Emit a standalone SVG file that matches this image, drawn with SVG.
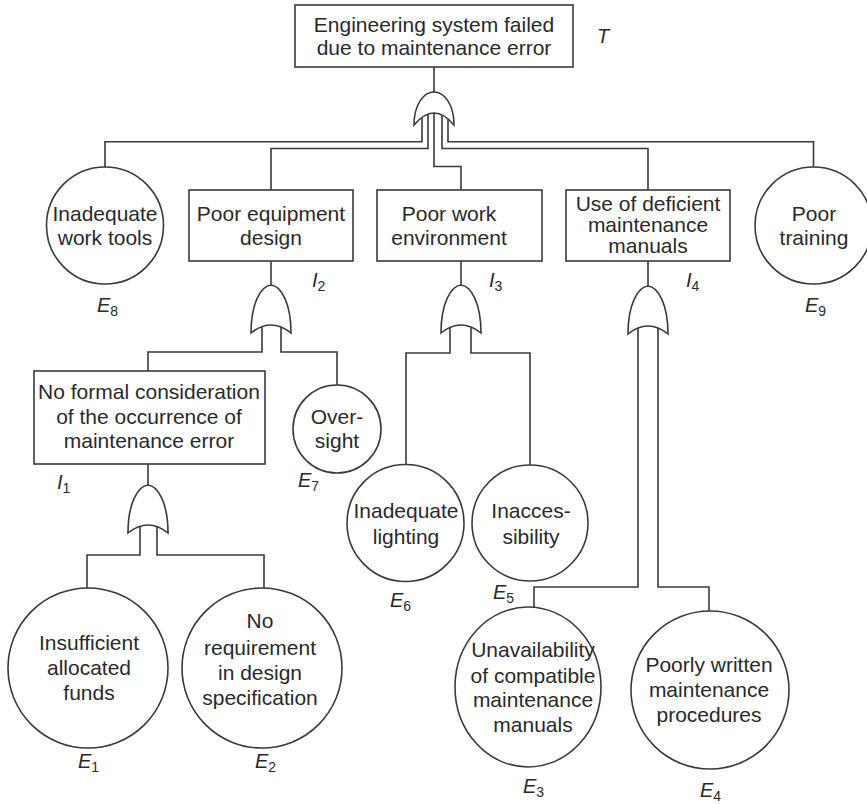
<svg xmlns="http://www.w3.org/2000/svg" width="867" height="804" viewBox="0 0 867 804">
<defs>
<style>
.ln{fill:none;stroke:#3a3a3a;stroke-width:1.6}
.sh{fill:#fff;stroke:#3a3a3a;stroke-width:1.6}
.t{font-family:"Liberation Sans",Arial,sans-serif;font-size:21px;fill:#2a2a2a;text-anchor:middle}
.lb{font-family:"Liberation Sans",Arial,sans-serif;font-size:20px;font-style:italic;fill:#2a2a2a}
.sb{font-size:14px;font-style:normal}
</style>
<path id="orI" d="M-20,48 C-20,18 -10,1 0,0 C10,1 20,18 20,48 Q0,32 -20,48 Z"/>
</defs>
<rect width="867" height="804" fill="#fff"/>
<g id="connectors" class="ln">
<path d="M434,67 V92"/>
<path d="M422,110 V141.7 H105 V167"/>
<path d="M428,110 V148.5 H271 V190"/>
<path d="M434,110 V166.5 H461 V190"/>
<path d="M442,110 V148.5 H648 V190"/>
<path d="M448,110 V141.7 H813.5 V167"/>
<path d="M271,261 V285"/>
<path d="M262,320 V352 H148 V371"/>
<path d="M281,320 V352 H337 V385"/>
<path d="M461,261 V285"/>
<path d="M450,320 V353 H406 V465"/>
<path d="M471,320 V353 H530 V465"/>
<path d="M648,261 V286"/>
<path d="M638,320 V587 H534 V608"/>
<path d="M658,320 V587 H709 V611"/>
<path d="M148,464 V485"/>
<path d="M140,520 V555 H87 V588"/>
<path d="M157,520 V555 H264 V588"/>
</g>
<g id="gate-T"><path class="sh" d="M414,125 C414,104 424,92 434,92 C444,92 454,104 454,125 Q434,101 414,125 Z"/></g>
<g id="gate-I2"><use href="#orI" class="sh" transform="translate(271,285)"/></g>
<g id="gate-I3"><use href="#orI" class="sh" transform="translate(461,285)"/></g>
<g id="gate-I4"><use href="#orI" class="sh" transform="translate(648,286)"/></g>
<g id="gate-I1"><use href="#orI" class="sh" transform="translate(148,485)"/></g>

<g id="T">
<rect class="sh" x="295" y="5" width="278" height="62"/>
<text class="t" x="434" y="32">Engineering system failed</text>
<text class="t" x="434" y="55">due to maintenance error</text>
<text class="lb" x="597" y="43">T</text>
</g>
<g id="E8">
<circle class="sh" cx="105" cy="225.5" r="58.5"/>
<text class="t" x="105" y="221">Inadequate</text>
<text class="t" x="105" y="245">work tools</text>
<text class="lb" x="97" y="312">E<tspan class="sb" dy="4">8</tspan></text>
</g>
<g id="I2">
<rect class="sh" x="189" y="190" width="164" height="71"/>
<text class="t" x="271" y="221">Poor equipment</text>
<text class="t" x="271" y="245">design</text>
<text class="lb" x="312" y="287">I<tspan class="sb" dy="4">2</tspan></text>
</g>
<g id="I3">
<rect class="sh" x="377" y="190" width="165" height="71"/>
<text class="t" x="449" y="221">Poor work</text>
<text class="t" x="449" y="245">environment</text>
<text class="lb" x="489" y="287">I<tspan class="sb" dy="4">3</tspan></text>
</g>
<g id="I4">
<rect class="sh" x="566" y="190" width="164" height="71"/>
<text class="t" x="648" y="211">Use of deficient</text>
<text class="t" x="648" y="232">maintenance</text>
<text class="t" x="648" y="253">manuals</text>
<text class="lb" x="686" y="287">I<tspan class="sb" dy="4">4</tspan></text>
</g>
<g id="E9">
<circle class="sh" cx="813.5" cy="225.5" r="58.5"/>
<text class="t" x="814" y="221">Poor</text>
<text class="t" x="814" y="245">training</text>
<text class="lb" x="805" y="312">E<tspan class="sb" dy="4">9</tspan></text>
</g>
<g id="I1">
<rect class="sh" x="34" y="371" width="231" height="93"/>
<text class="t" x="149" y="399">No formal consideration</text>
<text class="t" x="149" y="424">of the occurrence of</text>
<text class="t" x="149" y="448">maintenance error</text>
<text class="lb" x="57" y="489">I<tspan class="sb" dy="4">1</tspan></text>
</g>
<g id="E7">
<circle class="sh" cx="337" cy="429" r="44"/>
<text class="t" x="337" y="424">Over-</text>
<text class="t" x="337" y="448">sight</text>
<text class="lb" x="298" y="487">E<tspan class="sb" dy="4">7</tspan></text>
</g>
<g id="E6">
<circle class="sh" cx="405.5" cy="523" r="58.5"/>
<text class="t" x="406" y="518">Inadequate</text>
<text class="t" x="406" y="544">lighting</text>
<text class="lb" x="390" y="607">E<tspan class="sb" dy="4">6</tspan></text>
</g>
<g id="E5">
<circle class="sh" cx="530" cy="523" r="58"/>
<text class="t" x="531" y="518">Inacces-</text>
<text class="t" x="531" y="544">sibility</text>
<text class="lb" x="493" y="599">E<tspan class="sb" dy="4">5</tspan></text>
</g>
<g id="E1">
<circle class="sh" cx="88" cy="668" r="80"/>
<text class="t" x="89" y="650">Insufficient</text>
<text class="t" x="89" y="675">allocated</text>
<text class="t" x="89" y="700">funds</text>
<text class="lb" x="78" y="768">E<tspan class="sb" dy="4">1</tspan></text>
</g>
<g id="E2">
<circle class="sh" cx="262" cy="668" r="80"/>
<text class="t" x="260" y="628">No</text>
<text class="t" x="260" y="655">requirement</text>
<text class="t" x="260" y="680">in design</text>
<text class="t" x="260" y="705">specification</text>
<text class="lb" x="255" y="768">E<tspan class="sb" dy="4">2</tspan></text>
</g>
<g id="E3">
<ellipse class="sh" cx="528" cy="687" rx="73" ry="80"/>
<text class="t" x="533" y="657">Unavailability</text>
<text class="t" x="533" y="683">of compatible</text>
<text class="t" x="533" y="707">maintenance</text>
<text class="t" x="533" y="732">manuals</text>
<text class="lb" x="523" y="793">E<tspan class="sb" dy="4">3</tspan></text>
</g>
<g id="E4">
<circle class="sh" cx="710" cy="690" r="79"/>
<text class="t" x="709" y="672">Poorly written</text>
<text class="t" x="709" y="697">maintenance</text>
<text class="t" x="709" y="722">procedures</text>
<text class="lb" x="700" y="797">E<tspan class="sb" dy="4">4</tspan></text>
</g>
</svg>
